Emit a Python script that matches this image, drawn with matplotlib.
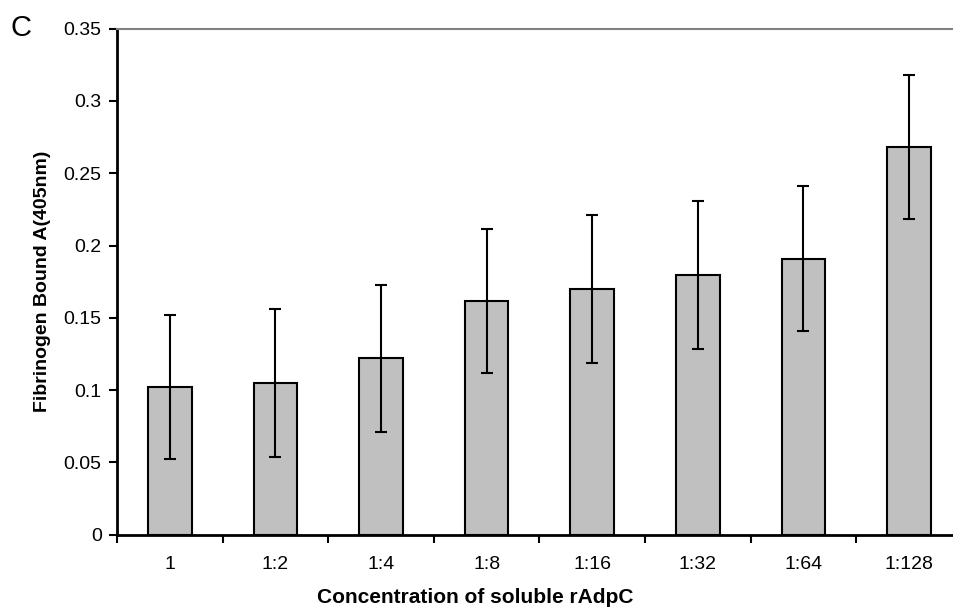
import numpy as np
import matplotlib
matplotlib.use('Agg')
import matplotlib.pyplot as plt

# 数据：稀释度 / 平均吸光度 / 误差
categories = ['1', '1:2', '1:4', '1:8', '1:16', '1:32', '1:64', '1:128']
values = [0.102, 0.105, 0.122, 0.1615, 0.170, 0.1795, 0.191, 0.268]
errors = [0.050, 0.051, 0.051, 0.050, 0.051, 0.051, 0.050, 0.050]
yticks = [0, 0.05, 0.1, 0.15, 0.2, 0.25, 0.3, 0.35]
ytick_labels = ['0', '0.05', '0.1', '0.15', '0.2', '0.25', '0.3', '0.35']

plt.rcParams['font.family'] = ['Liberation Sans', 'DejaVu Sans']

fig = plt.figure(figsize=(9.54, 6.12), dpi=100)
ax = fig.add_axes([0.1226, 0.1265, 0.8857, 0.8266])

x = np.arange(len(categories))
ax.bar(x, values, width=0.414, color='#c0c0c0', edgecolor='black', linewidth=1.5, zorder=2)
ax.errorbar(x, values, yerr=errors, fmt='none', ecolor='black', elinewidth=1.5,
            capsize=4.3, capthick=1.5, zorder=3)

ax.set_xlim(-0.5, len(categories) - 0.5)
ax.set_ylim(0, 0.35)
ax.set_yticks(yticks)
ax.set_yticklabels(ytick_labels)

# 刻度在类别边界，标签在类别中间
ax.set_xticks(np.arange(len(categories) + 1) - 0.5)
ax.set_xticklabels([])
ax.set_xticks(x, minor=True)
ax.set_xticklabels(categories, minor=True)
ax.tick_params(axis='x', which='major', direction='out', length=6, width=1.5)
ax.tick_params(axis='x', which='minor', length=0, pad=15.5, labelsize=14)
ax.tick_params(axis='y', direction='out', length=6, width=1.5, labelsize=14, pad=5)

ax.spines['right'].set_visible(False)
ax.spines['top'].set_color('#808080')
ax.spines['top'].set_linewidth(1.5)
ax.spines['left'].set_linewidth(2)
ax.spines['bottom'].set_linewidth(2)

ax.set_xlabel('Concentration of soluble rAdpC', fontsize=15, fontweight='bold')
ax.xaxis.set_label_coords(0.424, -0.105)
ax.set_ylabel('Fibrinogen Bound A(405nm)', fontsize=14, fontweight='bold', labelpad=9)

fig.text(0.011, 0.955, 'C', fontsize=21, va='center', ha='left')

plt.savefig('out.png', dpi=100)
